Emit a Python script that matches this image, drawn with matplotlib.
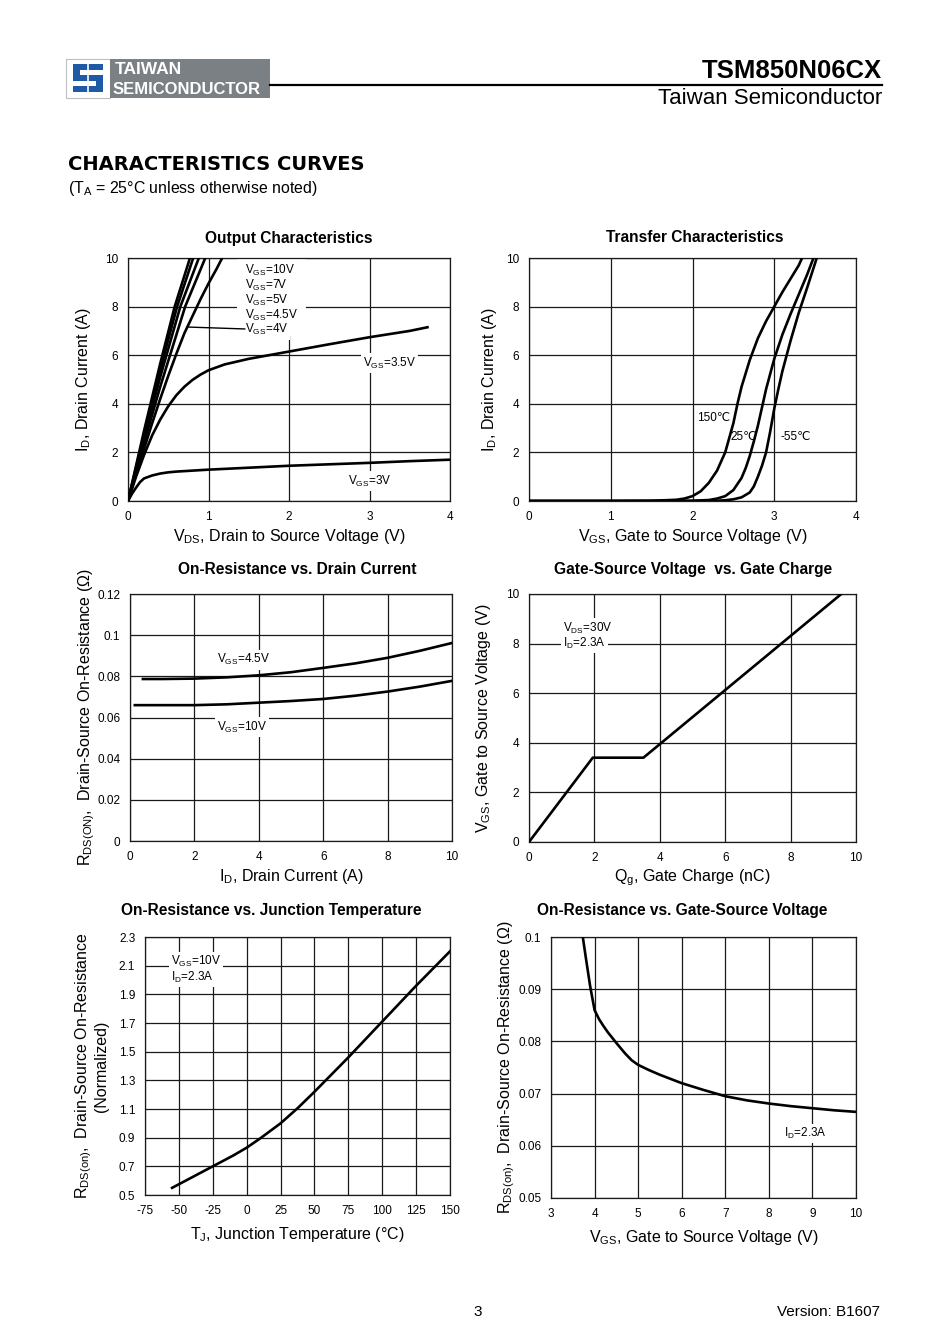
import matplotlib
matplotlib.use('Agg')
import matplotlib.pyplot as plt
from matplotlib.patches import Rectangle
from matplotlib.lines import Line2D

plt.rcParams['font.family'] = ['Liberation Sans', 'DejaVu Sans']
plt.rcParams['mathtext.fontset'] = 'custom'
plt.rcParams['mathtext.rm'] = 'Liberation Sans'
plt.rcParams['axes.unicode_minus'] = False

W, H = 950, 1344

# --- Output characteristics (VDS, ID) ---
out_x_3v = [0, 0.05, 0.1, 0.15, 0.2, 0.3, 0.4, 0.5, 0.6, 0.8, 1.0, 1.5, 2.0, 2.5, 3.0, 3.5, 4.0]
out_y_3v = [0, 0.3, 0.55, 0.78, 0.93, 1.05, 1.13, 1.18, 1.21, 1.25, 1.29, 1.37, 1.45, 1.51, 1.57, 1.64, 1.70]
out_x_35v = [0, 0.1, 0.2, 0.3, 0.4, 0.5, 0.6, 0.7, 0.8, 0.9, 1.0, 1.2, 1.5, 2.0, 2.5, 3.0, 3.5, 3.72]
out_y_35v = [0, 1.0, 1.9, 2.7, 3.35, 3.9, 4.35, 4.7, 4.98, 5.2, 5.38, 5.62, 5.85, 6.15, 6.45, 6.74, 7.0, 7.15]
out_x_4v = [0, 0.1, 0.2, 0.3, 0.4, 0.5, 0.6, 0.7, 0.8, 0.9, 1.0, 1.1, 1.17]
out_y_4v = [0, 1.1, 2.15, 3.2, 4.2, 5.15, 6.05, 6.9, 7.6, 8.3, 8.95, 9.55, 10]
out_x_45v = [0, 0.2, 0.4, 0.71, 0.96]
out_y_45v = [0, 2.4, 4.7, 8.0, 10]
out_x_5v = [0, 0.2, 0.4, 0.65, 0.88]
out_y_5v = [0, 2.6, 5.1, 8.0, 10]
out_x_7v = [0, 0.2, 0.4, 0.61, 0.81]
out_y_7v = [0, 2.75, 5.4, 8.0, 10]
out_x_10v = [0, 0.2, 0.4, 0.58, 0.77]
out_y_10v = [0, 2.9, 5.65, 8.0, 10]

# --- Transfer characteristics (VGS, ID) ---
tr_x_150 = [0, 1.0, 1.5, 1.8, 1.9, 2.0, 2.1, 2.2, 2.3, 2.4, 2.5, 2.55, 2.6, 2.7, 2.8, 2.9, 3.0, 3.1, 3.2, 3.3, 3.34]
tr_y_150 = [0, 0, 0.01, 0.05, 0.1, 0.2, 0.4, 0.75, 1.25, 2.0, 3.2, 4.0, 4.7, 5.8, 6.7, 7.4, 8.0, 8.6, 9.15, 9.7, 10]
tr_x_25 = [0, 1.5, 2.0, 2.2, 2.3, 2.4, 2.5, 2.6, 2.65, 2.7, 2.75, 2.8, 2.85, 2.9, 3.0, 3.1, 3.2, 3.3, 3.4, 3.48]
tr_y_25 = [0, 0, 0.01, 0.04, 0.1, 0.2, 0.45, 0.95, 1.35, 1.85, 2.45, 3.1, 3.85, 4.6, 5.85, 6.85, 7.7, 8.5, 9.3, 10]
tr_x_m55 = [0, 2.0, 2.3, 2.4, 2.5, 2.6, 2.7, 2.75, 2.8, 2.85, 2.9, 2.95, 3.0, 3.05, 3.1, 3.2, 3.3, 3.4, 3.52]
tr_y_m55 = [0, 0, 0.01, 0.03, 0.07, 0.15, 0.35, 0.6, 1.0, 1.45, 2.0, 2.85, 3.8, 4.6, 5.35, 6.6, 7.75, 8.75, 10]

# --- On-resistance vs drain current ---
rid_x_45 = [0.4, 1, 2, 3, 4, 5, 6, 7, 8, 9, 10]
rid_y_45 = [0.0787, 0.0787, 0.0789, 0.0795, 0.0805, 0.082, 0.0841, 0.0863, 0.089, 0.0924, 0.0962]
rid_x_10 = [0.15, 1, 2, 3, 4, 5, 6, 7, 8, 9, 10]
rid_y_10 = [0.066, 0.066, 0.066, 0.0664, 0.0672, 0.068, 0.069, 0.0706, 0.0726, 0.075, 0.0778]

# --- Gate charge ---
qg_x = [0, 1.95, 3.5, 9.55]
qg_y = [0, 3.4, 3.4, 10]

# --- On-resistance vs junction temperature ---
tj_x = [-55, -40, -25, -10, 0, 10, 25, 37.5, 50, 62.5, 75, 87.5, 100, 112.5, 125, 137.5, 150]
tj_y = [0.55, 0.625, 0.70, 0.775, 0.83, 0.895, 1.0, 1.105, 1.22, 1.34, 1.46, 1.585, 1.71, 1.835, 1.96, 2.08, 2.2]

# --- On-resistance vs gate-source voltage ---
rvg_x = [3.73, 3.8, 3.9, 4.0, 4.1, 4.2, 4.3, 4.5, 4.7, 4.85, 5.0, 5.25, 5.5, 6.0, 6.5, 7.0, 7.5, 8.0, 8.5, 9.0, 9.5, 10.0]
rvg_y = [0.1, 0.096, 0.0905, 0.086, 0.0843, 0.083, 0.0818, 0.0797, 0.0777, 0.0764, 0.0755, 0.0745, 0.0736,
         0.072, 0.0707, 0.0695, 0.0687, 0.0681, 0.0676, 0.0672, 0.0668, 0.0665]

# tick labels
ticks_0_4 = [0, 1, 2, 3, 4]
ticks_0_10_2 = [0, 2, 4, 6, 8, 10]
rid_yticks = [0, 0.02, 0.04, 0.06, 0.08, 0.1, 0.12]
rid_ylabels = ['0', '0.02', '0.04', '0.06', '0.08', '0.1', '0.12']
tj_xticks = [-75, -50, -25, 0, 25, 50, 75, 100, 125, 150]
tj_yticks = [0.5, 0.7, 0.9, 1.1, 1.3, 1.5, 1.7, 1.9, 2.1, 2.3]
rvg_xticks = [3, 4, 5, 6, 7, 8, 9, 10]
rvg_yticks = [0.05, 0.06, 0.07, 0.08, 0.09, 0.1]
rvg_ylabels = ['0.05', '0.06', '0.07', '0.08', '0.09', '0.1']

fig = plt.figure(figsize=(W / 100, H / 100), dpi=100)


def px_axes(x0, y0, x1, y1):
    ax = fig.add_axes([x0 / W, 1 - y1 / H, (x1 - x0) / W, (y1 - y0) / H])
    ax.tick_params(length=0, labelsize=8.5, pad=7)
    ax.grid(True, color='0.1', lw=0.9)
    ax.set_axisbelow(True)
    for s in ax.spines.values():
        s.set_color('0.1')
        s.set_linewidth(0.9)
    return ax


def ftext(x, y, s, **kw):
    fig.text(x / W, 1 - y / H, s, **kw)


def lab(ax, x, y, s, **kw):
    ax.text(x, y, s, fontsize=8.5, va='center', ha='left', zorder=3,
            bbox=dict(facecolor='white', edgecolor='none', pad=1.5), **kw)


def vsub(base, sub):
    return base + r'$_{\mathregular{' + sub + '}}$'


LW = 1.9
AX_FS = 11.5
TI_FS = 11.2

# ---------- header ----------
fig.patches.append(Rectangle((66 / W, 1 - 98 / H), 44 / W, 39 / H, transform=fig.transFigure,
                             facecolor='white', edgecolor='0.75', lw=0.8))
blue = '#1f5aa6'
for (x0, y0, w, h) in [(73, 64, 30, 6), (73, 64, 7, 16), (73, 75, 30, 6), (96, 75, 7, 16), (73, 86, 30, 6)]:
    fig.patches.append(Rectangle((x0 / W, 1 - (y0 + h) / H), w / W, h / H, transform=fig.transFigure,
                                 facecolor=blue, edgecolor='none'))
fig.lines.append(Line2D([88 / W, 88 / W], [1 - 94 / H, 1 - 62 / H], transform=fig.transFigure, color='white', lw=1.2))
fig.patches.append(Rectangle((110 / W, 1 - 98 / H), 160 / W, 39 / H, transform=fig.transFigure,
                             facecolor='#7b8085', edgecolor='none'))
ftext(115, 70, 'TAIWAN', color='white', fontsize=12.5, fontweight='bold', va='center', ha='left')
ftext(113, 89, 'SEMICONDUCTOR', color='white', fontsize=12, fontweight='bold', va='center', ha='left')
fig.lines.append(Line2D([270 / W, 882 / W], [1 - 85 / H, 1 - 85 / H], transform=fig.transFigure, color='black', lw=1.6))
ftext(882, 71, 'TSM850N06CX', fontsize=18.5, fontweight='bold', ha='right', va='center')
ftext(882, 99, 'Taiwan Semiconductor', fontsize=16, ha='right', va='center')
ftext(68, 164, 'CHARACTERISTICS CURVES', fontsize=14, fontweight='bold', ha='left', va='center',
      family=['DejaVu Sans'])
ftext(68, 188, '(T$_{\\mathregular{A}}$ = 25°C unless otherwise noted)', fontsize=11.4, ha='left', va='center')

# ---------- Output characteristics ----------
ax = px_axes(128, 258, 450, 501)
for xs, ys in [(out_x_3v, out_y_3v), (out_x_35v, out_y_35v), (out_x_4v, out_y_4v), (out_x_45v, out_y_45v),
               (out_x_5v, out_y_5v), (out_x_7v, out_y_7v), (out_x_10v, out_y_10v)]:
    ax.plot(xs, ys, color='black', lw=LW, zorder=4)
ax.set_xlim(0, 4)
ax.set_ylim(0, 10)
ax.set_xticks(ticks_0_4)
ax.set_yticks(ticks_0_10_2)
ax.add_patch(Rectangle((1.36, 6.8), 0.85, 3.15, facecolor='white', edgecolor='none', zorder=2))
lab(ax, 1.45, 9.5, vsub('V', 'GS') + '=10V')
lab(ax, 1.45, 8.88, vsub('V', 'GS') + '=7V')
lab(ax, 1.45, 8.27, vsub('V', 'GS') + '=5V')
lab(ax, 1.45, 7.65, vsub('V', 'GS') + '=4.5V')
lab(ax, 1.45, 7.04, vsub('V', 'GS') + '=4V')
ax.plot([0.73, 1.45], [7.16, 7.08], color='black', lw=1.0, zorder=3)
lab(ax, 2.92, 5.68, vsub('V', 'GS') + '=3.5V')
lab(ax, 2.73, 0.82, vsub('V', 'GS') + '=3V')
ax.set_xlabel(vsub('V', 'DS') + ', Drain to Source Voltage (V)', fontsize=AX_FS, labelpad=3)
ax.set_ylabel(vsub('I', 'D') + ', Drain Current (A)', fontsize=AX_FS)
ax.yaxis.set_label_coords(-0.109, 0.5)
ftext(289, 238, 'Output Characteristics', fontsize=TI_FS, fontweight='bold', ha='center', va='center')

# ---------- Transfer characteristics ----------
ax = px_axes(529, 258, 856, 501)
for xs, ys in [(tr_x_150, tr_y_150), (tr_x_25, tr_y_25), (tr_x_m55, tr_y_m55)]:
    ax.plot(xs, ys, color='black', lw=LW, zorder=4)
ax.set_xlim(0, 4)
ax.set_ylim(0, 10)
ax.set_xticks(ticks_0_4)
ax.set_yticks(ticks_0_10_2)
lab(ax, 2.06, 3.42, '150℃')
lab(ax, 2.47, 2.63, '25℃')
lab(ax, 3.08, 2.63, '-55℃')
ax.set_xlabel(vsub('V', 'GS') + ', Gate to Source Voltage (V)', fontsize=AX_FS, labelpad=3)
ax.set_ylabel(vsub('I', 'D') + ', Drain Current (A)', fontsize=AX_FS)
ax.yaxis.set_label_coords(-0.091, 0.5)
ftext(695, 238, 'Transfer Characteristics', fontsize=TI_FS, fontweight='bold', ha='center', va='center')

# ---------- On-resistance vs drain current ----------
ax = px_axes(130, 594, 452, 841)
ax.plot(rid_x_45, rid_y_45, color='black', lw=LW, zorder=4)
ax.plot(rid_x_10, rid_y_10, color='black', lw=LW, zorder=4)
ax.set_xlim(0, 10)
ax.set_ylim(0, 0.12)
ax.set_xticks(ticks_0_10_2)
ax.set_yticks(rid_yticks)
ax.set_yticklabels(rid_ylabels)
lab(ax, 2.7, 0.088, vsub('V', 'GS') + '=4.5V')
lab(ax, 2.7, 0.0554, vsub('V', 'GS') + '=10V')
ax.set_xlabel(vsub('I', 'D') + ', Drain Current (A)', fontsize=AX_FS, labelpad=3)
ax.set_ylabel(vsub('R', 'DS(ON)') + ',  Drain-Source On-Resistance ($\\Omega$)', fontsize=AX_FS)
ax.yaxis.set_label_coords(-0.103, 0.5)
ftext(297, 570, 'On-Resistance vs. Drain Current', fontsize=TI_FS, fontweight='bold', ha='center', va='center')

# ---------- Gate charge ----------
ax = px_axes(529, 594, 856, 842)
ax.plot(qg_x, qg_y, color='black', lw=LW, zorder=4)
ax.set_xlim(0, 10)
ax.set_ylim(0, 10)
ax.set_xticks(ticks_0_10_2)
ax.set_yticks(ticks_0_10_2)
lab(ax, 1.04, 8.63, vsub('V', 'DS') + '=30V')
lab(ax, 1.04, 8.02, vsub('I', 'D') + '=2.3A')
ax.set_xlabel(vsub('Q', 'g') + ', Gate Charge (nC)', fontsize=AX_FS, labelpad=3)
ax.set_ylabel(vsub('V', 'GS') + ', Gate to Source Voltage (V)', fontsize=AX_FS)
ax.yaxis.set_label_coords(-0.11, 0.5)
ftext(693, 570, 'Gate-Source Voltage  vs. Gate Charge', fontsize=TI_FS, fontweight='bold', ha='center', va='center')

# ---------- On-resistance vs junction temperature ----------
ax = px_axes(145, 937, 450, 1195)
ax.plot(tj_x, tj_y, color='black', lw=LW, zorder=4)
ax.set_xlim(-75, 150)
ax.set_ylim(0.5, 2.3)
ax.set_xticks(tj_xticks)
ax.set_yticks(tj_yticks)
lab(ax, -56, 2.126, vsub('V', 'GS') + '=10V')
lab(ax, -56, 2.02, vsub('I', 'D') + '=2.3A')
ax.set_xlabel(vsub('T', 'J') + ', Junction Temperature (°C)', fontsize=AX_FS, labelpad=6)
ax.set_ylabel(vsub('R', 'DS(on)') + ',  Drain-Source On-Resistance\n(Normalized)', fontsize=AX_FS,
              linespacing=1.0)
ax.yaxis.set_label_coords(-0.118, 0.5)
ftext(271, 910, 'On-Resistance vs. Junction Temperature', fontsize=TI_FS, fontweight='bold', ha='center', va='center')

# ---------- On-resistance vs gate-source voltage ----------
ax = px_axes(551, 937, 856, 1198)
ax.plot(rvg_x, rvg_y, color='black', lw=LW, zorder=4)
ax.set_xlim(3, 10)
ax.set_ylim(0.05, 0.1)
ax.set_xticks(rvg_xticks)
ax.set_yticks(rvg_yticks)
ax.set_yticklabels(rvg_ylabels)
lab(ax, 8.35, 0.0623, vsub('I', 'D') + '=2.3A')
ax.set_xlabel(vsub('V', 'GS') + ', Gate to Source Voltage (V)', fontsize=AX_FS, labelpad=6)
ax.set_ylabel(vsub('R', 'DS(on)') + ',  Drain-Source On-Resistance ($\\Omega$)', fontsize=AX_FS)
ax.yaxis.set_label_coords(-0.111, 0.5)
ftext(682, 910, 'On-Resistance vs. Gate-Source Voltage', fontsize=TI_FS, fontweight='bold', ha='center', va='center')

# ---------- footer ----------
ftext(478, 1312, '3', fontsize=11, ha='center', va='center')
ftext(880, 1312, 'Version: B1607', fontsize=11, ha='right', va='center')

fig.savefig('out.png', dpi=100)
